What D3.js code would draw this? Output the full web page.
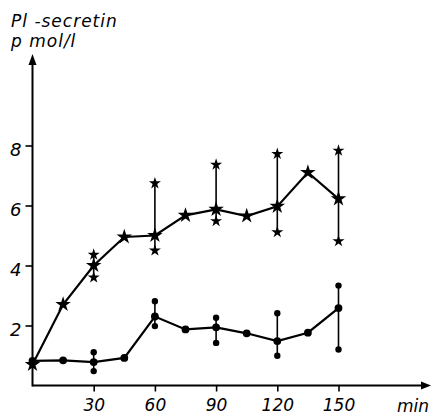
<!DOCTYPE html>
<html><head><meta charset="utf-8">
<script src="https://cdn.jsdelivr.net/npm/d3@7"></script>
<style>body{margin:0;background:#fff}svg text{font-family:"DejaVu Sans",sans-serif;font-style:italic;fill:#000}</style>
</head><body><svg id="c" width="432" height="416"></svg>
<script>
const times = [0,15,30,45,60,75,90,105,120,135,150];
const starMean = [0.7,2.7,4.0,4.95,5.0,5.67,5.87,5.65,5.97,7.1,6.22];
const starErrT = [30,60,90,120,150];
const starLow = [3.6,4.5,5.48,5.11,4.81];
const starHigh = [4.36,6.74,7.36,7.72,7.83];
const dotMean = [0.82,0.84,0.78,0.92,2.3,1.87,1.94,1.74,1.48,1.76,2.58];
const dotErrT = [30,60,90,120,150];
const dotLow = [0.48,1.98,1.42,0.99,1.2];
const dotHigh = [1.11,2.81,2.26,2.41,3.33];
const xTicks = [30,60,90,120,150];
const yTicks = [2,4,6,8];

const svg = d3.select("#c");
const x = d3.scaleLinear().domain([0,150]).range([32.5,338.5]);
const y = d3.scaleLinear().domain([0,8]).range([385.5,145.5]);

// axes
const xAxis = d3.axisBottom(x).tickValues(xTicks).tickSize(6).tickPadding(7).tickFormat(d3.format("d"));
const gx = svg.append("g").attr("transform","translate(0,385.5)").call(xAxis);
gx.select(".domain").remove();
gx.selectAll("line").attr("stroke","#000").attr("stroke-width",1.6);
gx.selectAll("text").attr("font-size",17).attr("dy","0.72em");
svg.append("line").attr("x1",32.5).attr("x2",424).attr("y1",385.5).attr("y2",385.5).attr("stroke","#000").attr("stroke-width",2);
svg.append("path").attr("d","M431,385.5 L421,381.5 L421,389.5 Z").attr("fill","#000");

const yAxis = d3.axisLeft(y).tickValues(yTicks).tickSize(7).tickPadding(4).tickFormat(d3.format("d"));
const gy = svg.append("g").attr("transform","translate(32.5,0)").call(yAxis);
gy.select(".domain").remove();
gy.selectAll("line").attr("stroke","#000").attr("stroke-width",1.6);
gy.selectAll("text").attr("font-size",18).attr("dy","0.55em");
svg.append("line").attr("x1",32.5).attr("x2",32.5).attr("y1",386.5).attr("y2",62).attr("stroke","#000").attr("stroke-width",2);
svg.append("path").attr("d","M32.5,54 L28.5,65 L36.5,65 Z").attr("fill","#000");

svg.append("text").attr("x",11).attr("y",27).attr("font-size",17).attr("letter-spacing",1).text("Pl -secretin");
svg.append("text").attr("x",11).attr("y",47).attr("font-size",17).attr("letter-spacing",1).text("p mol/l");
svg.append("text").attr("x",397).attr("y",412).attr("font-size",17).text("min");

const line = d3.line().x((d,i)=>x(times[i])).y(d=>y(d));
const star = d3.symbol().type(d3.symbolStar);

// error bars
function errs(T, lo, hi, sym, size){
  T.forEach((t,i)=>{
    svg.append("line").attr("x1",x(t)).attr("x2",x(t)).attr("y1",y(lo[i])).attr("y2",y(hi[i])).attr("stroke","#000").attr("stroke-width",1.6);
    [lo[i],hi[i]].forEach(v=>{
      if(sym==="star") svg.append("path").attr("d",star.size(size)()).attr("transform",`translate(${x(t)},${y(v)})`).attr("fill","#000");
      else svg.append("circle").attr("cx",x(t)).attr("cy",y(v)).attr("r",size).attr("fill","#000");
    });
  });
}
errs(starErrT, starLow, starHigh, "star", 45);
errs(dotErrT, dotLow, dotHigh, "dot", 3.2);

svg.append("path").attr("d",line(starMean)).attr("fill","none").attr("stroke","#000").attr("stroke-width",2.2);
svg.append("path").attr("d",line(dotMean)).attr("fill","none").attr("stroke","#000").attr("stroke-width",2.2);

starMean.forEach((v,i)=>svg.append("path").attr("d",star.size(75)()).attr("transform",`translate(${x(times[i])},${y(v)})`).attr("fill","#000"));
dotMean.forEach((v,i)=>svg.append("circle").attr("cx",x(times[i])).attr("cy",y(v)).attr("r",3.9).attr("fill","#000"));
</script></body></html>
